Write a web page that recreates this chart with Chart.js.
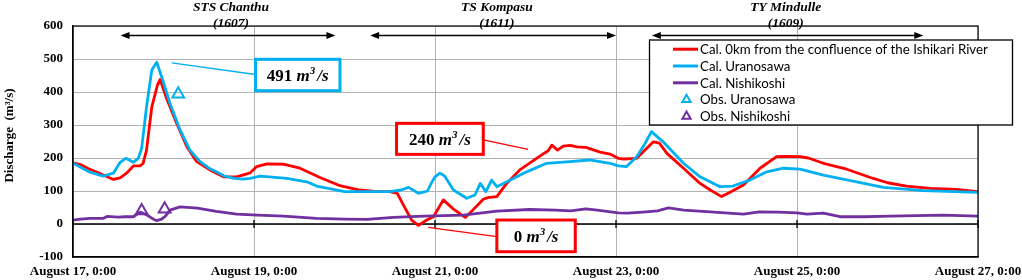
<!DOCTYPE html>
<html><head><meta charset="utf-8">
<script src="https://cdn.jsdelivr.net/npm/chart.js@4.4.0/dist/chart.umd.min.js"></script>
<style>html,body{margin:0;padding:0;background:#fff;}#wrap{width:1022px;height:280px;}</style>
</head><body><div id="wrap"><canvas id="c" width="1022" height="280"></canvas></div>
<script>
// ---- tick labels (x in hours since August 17, 0:00) ----
const xTickLabels = ['August 17, 0:00','August 19, 0:00','August 21, 0:00','August 23, 0:00','August 25, 0:00','August 27, 0:00'];
const yMin = -100, yMax = 600, yStep = 100;
const seriesNames = ['Cal. 0km from the confluence of the Ishikari River','Cal. Uranosawa','Cal. Nishikoshi','Obs. Uranosawa','Obs. Nishikoshi'];
const seriesColors = ['#ff0000','#00b0f0','#7030a0','#00b0f0','#7030a0'];

// ---- Cal. 0km from the confluence ----
const redHours = [0,2,4,7,10.7,12.5,14.2,16,17.8,18.6,19.5,20.9,22.4,23.1,24.8,27.5,30.2,32.8,36.3,39.9,43.4,47,48.7,51.4,56,60.2,65.5,70.8,76,80,84,86,87.6,89.8,91.6,93.8,95.6,98.2,100.9,104,106,108.8,110,112.4,115,118.5,121,124,126,127,128.5,130,131.8,133.6,136,139.8,142.4,144.6,146,149.5,151.5,153.9,155.5,157.5,161.9,166.3,169,172,174,177.8,182.2,186.6,189,192.8,195,199,205.2,212.2,216,221,227.3,234.3,240];
const redValues = [185,180,168,154,135,140,154,176,176,184,224,355,421,438,381,305,234,189,164,143,143,155,174,182,181,169,141,116,103,99,98,93,58,12,-4,12,22,73,45,20,42,75,80,83,123,164,184,207,222,239,224,236,238,234,232,218,212,199,197,199,222,249,245,214,169,123,103,83,95,118,169,204,205,204,200,184,166,138,125,115,108,105,98];

// ---- Cal. Uranosawa ----
const blueHours = [0,2,4.5,8,10.7,12.5,14,16,17.3,18.2,19.5,20.9,22.2,23.5,25.7,28.4,31,33.7,36,38,40,42.5,45,47,49.6,52,56.7,62,64.6,70,72,79.6,84,87,89,91.6,94,95,96,97.3,98.5,100.9,104.4,106.6,108,109.5,111,112.4,116,120.3,125.6,131.8,137,142.4,144.6,146.8,149.5,151.5,153.4,156.5,161.9,166.3,171.6,175,179.5,184,188.4,192.8,199,207.8,214.9,225.5,240];
const blueValues = [184,172,157,145,154,187,199,187,199,229,355,467,490,446,366,285,224,189,170,158,146,139,136,138,145,143,138,128,115,103,98,98,98,103,111,93,100,123,143,154,146,103,78,88,123,98,133,113,133,158,184,189,194,184,176,174,204,240,280,249,184,143,113,115,133,158,169,166,148,128,111,101,96];

// ---- Cal. Nishikoshi ----
const purpleHours = [0,2,4.5,8,9,12,14,16,17.8,19.5,21,22.2,23.5,24.5,25.7,28.4,33,38,43.4,49,55.8,64.6,72,78,85,93,103.5,112.4,121,128,132,136,139,144.6,147,152,155,157.9,162,169,177.8,182,187,192,194.6,199,203.4,210,216.6,230.7,240];
const purpleValues = [12,15,17,17,23,21,22,22,36,28,17,10,15,24,42,52,48,38,30,27,24,17,15,14,20,24,27,39,44,42,40,46,42,34,33,37,40,49,42,37,30,37,36,34,30,33,22,22,24,27,24];

// ---- observations ----
const obsUranoHours = [27.9];
const obsUranoValues = [394];
const obsNishiHours = [18.2, 24.3];
const obsNishiValues = [40, 45];

// ---- annotations (in data units: hours / m3/s) ----
const stormNames = ['STS Chanthu','TS Kompasu','TY Mindulle'];
const stormCodes = ['(1607)','(1611)','(1609)'];
const stormCenters = [41.9, 112.4, 189];
const stormSpans = [[12.6,69.6],[78.8,144],[153.5,225.5]];
const calloutTexts = ['491','240','0'];
const calloutColors = ['#00b0f0','#ff0000','#ff0000'];
const calloutBoxes = [[48.4,70.8,404,499],[85.8,108.8,211,305],[112.4,133.2,-84,12]];
const calloutPointers = [[[26.2,488],[48.4,453]],[[108.8,255],[120.7,226]],[[94.2,-10],[112.4,-38]]];

function pts(h, v){ return h.map((t,i)=>({x:t,y:v[i]})); }

const SERIF = '"Liberation Serif","Times New Roman",serif';

function drawMathLabel(ctx, num, cx, cy){
  const fs = 17;
  const fNum = 'bold '+fs+'px '+SERIF, fIt = 'italic bold '+fs+'px '+SERIF, fSup = 'italic bold 11px '+SERIF;
  const parts = [[num+' ',fNum,0],['m',fIt,0],['3',fSup,-7],['/s',fIt,0]];
  let w = 0;
  parts.forEach(p=>{ctx.font=p[1]; w += ctx.measureText(p[0]).width; });
  w += 2;
  let x = cx - w/2;
  ctx.fillStyle = '#000'; ctx.textBaseline='alphabetic'; ctx.textAlign='left';
  parts.forEach((p,i)=>{ ctx.font=p[1]; ctx.fillText(p[0], x, cy+6+p[2]); x += ctx.measureText(p[0]).width + (i===2?2:0); });
}

function arrowHead(ctx, x, y, dir){
  ctx.beginPath(); ctx.moveTo(x,y); ctx.lineTo(x-dir*9,y-3.5); ctx.lineTo(x-dir*9,y+3.5); ctx.closePath(); ctx.fill();
}

const overlay = {
  id:'overlay',
  beforeDatasetsDraw(chart){
    const {ctx, chartArea:a, scales:{x,y}} = chart;
    const y0 = y.getPixelForValue(0);
    ctx.save(); ctx.strokeStyle='#000'; ctx.lineWidth=1.3;
    ctx.beginPath(); ctx.moveTo(a.left,y0); ctx.lineTo(a.right,y0);
    xTickLabels.forEach((_,i)=>{ const px=x.getPixelForValue(i*48); ctx.moveTo(px,y0-4); ctx.lineTo(px,y0+4); });
    ctx.stroke(); ctx.restore();
  },
  afterDraw(chart){
    const {ctx, chartArea:a, scales:{x,y}} = chart;
    ctx.save();
    // plot border
    ctx.strokeStyle='#000'; ctx.lineWidth=1.2;
    ctx.strokeRect(a.left, a.top, a.right-a.left, a.bottom-a.top);
    // y-axis title
    ctx.save(); ctx.translate(10, (a.top+a.bottom)/2 - 6); ctx.rotate(-Math.PI/2);
    ctx.font='bold 13px '+SERIF; ctx.fillStyle='#000'; ctx.textAlign='center'; ctx.textBaseline='middle';
    ctx.fillText('Discharge  (m³/s)',0,0); ctx.restore();
    // storms
    ctx.fillStyle='#000'; ctx.strokeStyle='#000';
    stormNames.forEach((n,i)=>{
      const cx = x.getPixelForValue(stormCenters[i]);
      ctx.font='italic bold 13.5px '+SERIF; ctx.textAlign='center'; ctx.textBaseline='alphabetic';
      ctx.fillText(n, cx, 11);
      ctx.fillText(stormCodes[i], cx, 27);
      const xa = x.getPixelForValue(stormSpans[i][0]), xb = x.getPixelForValue(stormSpans[i][1]);
      const ya = Math.round(y.getPixelForValue(573))+0.5;
      ctx.lineWidth=1.5; ctx.beginPath(); ctx.moveTo(xa+4,ya); ctx.lineTo(xb-4,ya); ctx.stroke();
      arrowHead(ctx, xa, ya, -1); arrowHead(ctx, xb, ya, 1);
    });
    // callouts
    calloutTexts.forEach((t,i)=>{
      const b = calloutBoxes[i], p = calloutPointers[i], col = calloutColors[i];
      ctx.strokeStyle=col; ctx.lineWidth=1.3;
      ctx.beginPath(); ctx.moveTo(x.getPixelForValue(p[0][0]), y.getPixelForValue(p[0][1]));
      ctx.lineTo(x.getPixelForValue(p[1][0]), y.getPixelForValue(p[1][1])); ctx.stroke();
      const x0=x.getPixelForValue(b[0]), x1=x.getPixelForValue(b[1]), yt=y.getPixelForValue(b[3]), yb=y.getPixelForValue(b[2]);
      ctx.fillStyle='#fff'; ctx.fillRect(x0,yt,x1-x0,yb-yt);
      ctx.lineWidth=3; ctx.strokeRect(x0,yt,x1-x0,yb-yt);
      drawMathLabel(ctx, t, (x0+x1)/2, (yt+yb)/2);
    });
    // legend
    const L = {x:649.5, y:40, w:363, h:85, row:16.8, first:49.2, lineX0:673, lineX1:698, markX:686.5, textX:700};
    ctx.fillStyle='#fff'; ctx.fillRect(L.x,L.y,L.w,L.h);
    ctx.strokeStyle='#000'; ctx.lineWidth=1.3; ctx.strokeRect(L.x,L.y,L.w,L.h);
    ctx.font='14px Lato'; const mw = ctx.measureText(seriesNames[0]).width; const fsz = 14*288/mw;
    ctx.font=fsz.toFixed(2)+'px Lato'; ctx.textAlign='left'; ctx.textBaseline='middle';
    seriesNames.forEach((n,i)=>{
      const cy = L.first + i*L.row;
      ctx.strokeStyle = seriesColors[i];
      if(i<3){ ctx.lineWidth=3; ctx.beginPath(); ctx.moveTo(L.lineX0,cy); ctx.lineTo(L.lineX1,cy); ctx.stroke(); }
      else { ctx.lineWidth=2; const r=4.8; ctx.beginPath(); ctx.moveTo(L.markX,cy-r); ctx.lineTo(L.markX+r*0.866,cy+r/2); ctx.lineTo(L.markX-r*0.866,cy+r/2); ctx.closePath(); ctx.stroke(); }
      ctx.fillStyle='#000'; ctx.fillText(n, L.textX, cy+0.5);
    });
    ctx.restore();
  }
};

const lineDs = (i,h,v,ord)=>({label:seriesNames[i], data:pts(h,v), borderColor:seriesColors[i], backgroundColor:seriesColors[i], borderWidth:2.8, pointRadius:0, tension:0, fill:false, order:ord, borderJoinStyle:'round'});
const obsDs = (i,h,v)=>({label:seriesNames[i], data:pts(h,v), showLine:false, pointStyle:'triangle', pointRadius:6.8, pointBorderWidth:2, borderColor:seriesColors[i], backgroundColor:'rgba(255,255,255,0)', order:0});

new Chart(document.getElementById('c'), {
  type:'line',
  data:{datasets:[
    lineDs(0,redHours,redValues,3),
    lineDs(1,blueHours,blueValues,2),
    lineDs(2,purpleHours,purpleValues,1),
    obsDs(3,obsUranoHours,obsUranoValues),
    obsDs(4,obsNishiHours,obsNishiValues)
  ]},
  options:{
    responsive:false, animation:false, devicePixelRatio:1,
    layout:{padding:{top:26,right:44,bottom:0,left:0}},
    plugins:{legend:{display:false}, title:{display:false}, tooltip:{enabled:false}},
    scales:{
      x:{type:'linear', min:0, max:240,
         ticks:{stepSize:48, autoSkip:false, maxRotation:0, minRotation:0, padding:7, color:'#000',
                font:{family:SERIF, weight:'bold', size:13},
                callback:v=>xTickLabels[Math.round(v/48)]},
         grid:{color:'#b3b3b3', lineWidth:1, drawTicks:false},
         border:{display:true, color:'#000', width:1.2},
         afterFit:s=>{s.height=23; s.paddingLeft=0; s.paddingRight=0;}},
      y:{min:yMin, max:yMax,
         ticks:{stepSize:yStep, padding:10, color:'#000', font:{family:SERIF, weight:'bold', size:13}},
         grid:{color:'#b3b3b3', lineWidth:1, drawTicks:false},
         border:{display:true, color:'#000', width:1.2},
         afterFit:s=>{s.width=73; s.paddingTop=0; s.paddingBottom=0;}}
    }
  },
  plugins:[overlay]
});
</script></body></html>
